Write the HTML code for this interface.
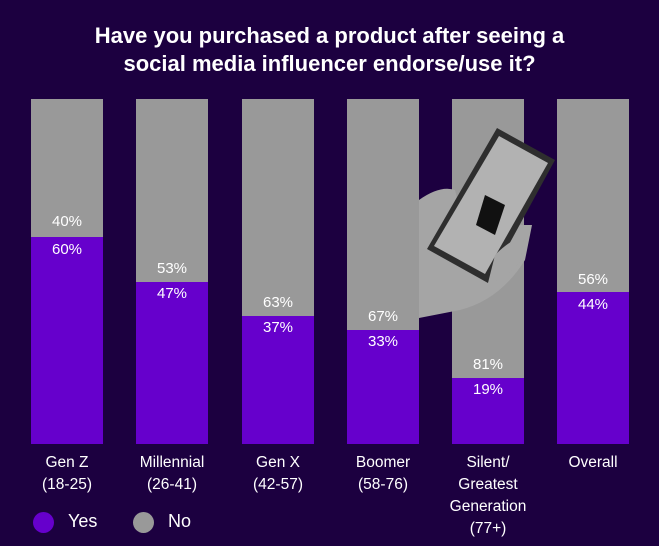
<!DOCTYPE html>
<html><head><meta charset="utf-8"><style>
body{margin:0;width:659px;height:546px;background:#1c0040;font-family:"Liberation Sans",sans-serif;position:relative;overflow:hidden;color:#fff}
.t{position:absolute;left:0;width:659px;top:22px;text-align:center;font-weight:bold;font-size:22px;line-height:28px}
.bar{position:absolute;top:99px;width:72px;height:345px;background:#999}
.y{position:absolute;left:0;bottom:0;width:72px;background:#6600cc}
.p{position:absolute;width:72px;text-align:center;font-size:15px;line-height:18px}
.lab{position:absolute;top:452px;width:110px;text-align:center;font-size:15.5px;line-height:22px}
.dot{position:absolute;width:21px;height:21px;border-radius:50%}
.lg{position:absolute;font-size:18px;top:511px}
</style></head><body>
<div class="t">Have you purchased a product after seeing a<br>social media influencer endorse/use it?</div>

<div class="bar" style="left:31px"><div class="y" style="height:207px"></div><div class="p" style="top:114px">40%</div><div class="p" style="top:142px">60%</div></div>
<div class="bar" style="left:136px"><div class="y" style="height:162px"></div><div class="p" style="top:161px">53%</div><div class="p" style="top:186px">47%</div></div>
<div class="bar" style="left:242px"><div class="y" style="height:128px"></div><div class="p" style="top:195px">63%</div><div class="p" style="top:220px">37%</div></div>
<div class="bar" style="left:347px"><div class="y" style="height:114px"></div><div class="p" style="top:209px">67%</div><div class="p" style="top:234px">33%</div></div>
<div class="bar" style="left:452px"><div class="y" style="height:66px"></div><div class="p" style="top:257px">81%</div><div class="p" style="top:282px">19%</div></div>
<div class="bar" style="left:557px"><div class="y" style="height:152px"></div><div class="p" style="top:172px">56%</div><div class="p" style="top:197px">44%</div></div>

<svg style="position:absolute;left:0;top:0" width="659" height="546">
<path d="M419 200 Q440 185 455 190 L470 250 L495 225 L532 225 L525 260 Q500 300 460 310 L419 318 Z" fill="#a5a5a5"/>
<polygon points="497,128 555,160 488,283 427,249" fill="#2e2e2e"/>
<polygon points="499,136 548,163 485,274 434,246" fill="#b2b2b2"/>
<polygon points="485,195 505,205 495,235 476,225" fill="#111"/>
<path d="M495 255 Q510 240 525 235 L520 262 Q505 280 488 283 Z" fill="#a5a5a5"/>
</svg>

<div class="lab" style="left:12px">Gen Z<br>(18-25)</div>
<div class="lab" style="left:117px">Millennial<br>(26-41)</div>
<div class="lab" style="left:223px">Gen X<br>(42-57)</div>
<div class="lab" style="left:328px">Boomer<br>(58-76)</div>
<div class="lab" style="left:433px">Silent/<br>Greatest<br>Generation<br>(77+)</div>
<div class="lab" style="left:538px">Overall</div>

<div class="dot" style="left:33px;top:512px;background:#6600cc"></div>
<div class="lg" style="left:68px">Yes</div>
<div class="dot" style="left:133px;top:512px;background:#999"></div>
<div class="lg" style="left:168px">No</div>
</body></html>
